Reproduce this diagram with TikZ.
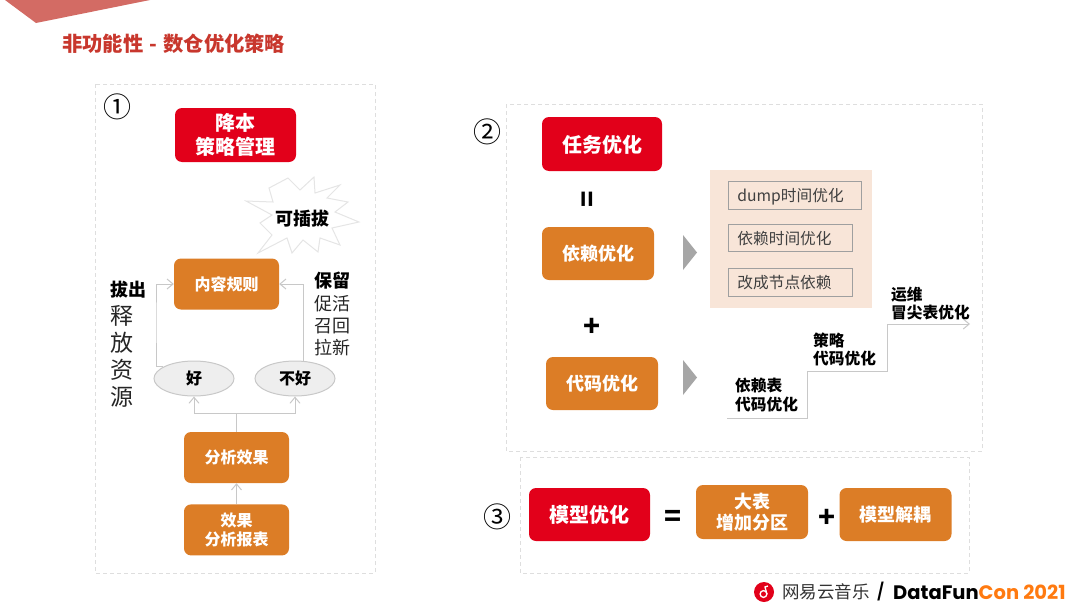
\documentclass[tikz,border=0pt]{standalone}
\usepackage{fontspec}
\usepackage{xcolor}
\usepackage{tikz}
\usetikzlibrary{positioning, arrows.meta, shapes.geometric}
\setmainfont{Noto Sans CJK SC}
\newfontfamily\logofont{Poppins}
\newcommand{\fs}[1]{\fontsize{#1pt}{\dimexpr #1pt*12/10\relax}\selectfont}
\definecolor{boxred}{HTML}{E2001A}
\definecolor{boxorange}{HTML}{DC7D26}
\definecolor{titlered}{HTML}{C8372D}
\definecolor{bannerred}{HTML}{D36B64}
\definecolor{panelpeach}{HTML}{F8E5D8}
\definecolor{dashgray}{HTML}{DEDEDE}
\definecolor{linegray}{HTML}{C8C8C8}
\definecolor{logoorange}{HTML}{FF7A10}

\begin{document}
\begin{tikzpicture}[
  x=1pt, y=-1pt,
  redbox/.style={fill=boxred, rounded corners=7pt, text=white, align=center,
                 inner sep=0pt, text height=18pt, text depth=2pt, font=\fs{20}\bfseries},
  orbox/.style={fill=boxorange, rounded corners=7pt, text=white, align=center,
                inner sep=0pt, minimum width=112pt, minimum height=53pt,
                text height=16pt, text depth=2pt, font=\fs{18}\bfseries},
  smallor/.style={orbox, minimum width=105pt, minimum height=51pt,
                  text height=14.4pt, text depth=1.6pt, font=\fs{16}\bfseries},
  twoline/.style={text height=, text depth=},
  oval/.style={draw=linegray, fill=gray!13, ellipse, inner sep=0pt, line width=1pt,
               minimum width=80pt, minimum height=35pt, font=\fs{16}\bfseries},
  frame/.style={draw=dashgray, line width=1pt, dash pattern=on 4pt off 3pt},
  tagbox/.style={draw=gray!75, line width=0.8pt, inner xsep=9pt, inner ysep=0pt,
                 minimum height=27.5pt, align=left, text=black!75,
                 text height=14pt, text depth=1pt, font=\fs{15.7}},
  arr/.style={-{Straight Barb[length=6pt,width=10pt]}, line width=1pt, linegray},
  note/.style={inner sep=0pt, align=left, font=\fs{15.7}\bfseries},
  circnum/.style={inner sep=0pt, font=\fs{28}},
  symb/.style={inner sep=0pt, font=\fs{28}\bfseries},
  tri/.style={fill=gray!70}
]
  \useasboundingbox (0,0) rectangle (1080,608);

  \fill[bannerred] (5,0) -- (36,23) -- (150,0) -- cycle;
  \node[anchor=west, inner sep=0pt, text=titlered, font=\fs{20.3}\bfseries] (title) at (62,44)
    {非功能性\hspace{1.5pt} - \hspace{1.5pt}数仓优化策略};

  \draw[frame] (95,84) rectangle (375,573);
  \draw[frame] (506,104) rectangle (982,451);
  \draw[frame] (520,457) rectangle (969,573);

  \node[circnum] (numone)   at (117,107) {①};
  \node[circnum] (numtwo)   at (487,132) {②};
  \node[circnum] (numthree) at (497,517) {③};

  \node[redbox, twoline, minimum width=121pt, minimum height=54pt] (cost) at (235.5,135)
    {降本\\策略管理};
  \draw[draw=black!10, fill=white, line width=1pt]
    (246,201) -- (273,202) -- (269,188) -- (288,178) -- (300,190) -- (314,177)
    -- (315,193) -- (340,185) -- (327,198) -- (348,202) -- (335,212) -- (359,222)
    -- (332,228) -- (340,245) -- (320,238) -- (318,252) -- (303,240) -- (292,253)
    -- (287,238) -- (258,253) -- (272,235) -- (260,223) -- (272,215) -- cycle;
  \node[inner sep=0pt, font=\fs{18}\bfseries] (plug) at (302,219) {可插拔};

  \node[smallor] (rule) at (226.5,284) {内容规则};
  \node[oval] (good) at (194,378.5) {好};
  \node[oval, right=20pt of good] (bad) {不好};
  \node[smallor] (effect) at (236.5,457.5) {分析效果};
  \node[smallor, twoline, below=21pt of effect] (report) {效果\\分析报表};
  \coordinate[above=18pt of effect.north] (split);
  \coordinate (goodturn) at (156,320);

  \draw[arr] (good.159) -| (goodturn) |- (rule.west);
  \draw[arr] (bad.65) |- (rule.east);
  \draw[line width=1pt, linegray] (effect.north) -- (split);
  \draw[arr] (split) -| (good.south);
  \draw[arr] (split) -| (bad.south);
  \draw[arr] (report.north) -- (effect.south);

  \node[inner sep=0pt, anchor=west, font=\fs{18}\bfseries] (pull) at (110,290) {拔出};
  \node[inner sep=0pt, anchor=north west, align=left, text=black!85,
        font=\fontsize{23pt}{27.2pt}\selectfont] (release) at (110,305)
    {释\\放\\资\\源};
  \node[inner sep=0pt, anchor=west, font=\fs{18}\bfseries] (keep) at (314,281) {保留};
  \node[inner sep=0pt, anchor=north west, align=left, text=black!85,
        font=\fontsize{18pt}{22pt}\selectfont] (retain) at (314,295)
    {促活\\召回\\拉新};

  \node[redbox, minimum width=120pt, minimum height=54pt] (task) at (602,144) {任务优化};
  \node[symb, rotate=90, font=\fs{27}\bfseries] (equalone) at (590,199.5) {=};
  \node[orbox] (dep) at (598,253.5) {依赖优化};
  \node[symb] (plusone) at (592.5,327) {+};
  \node[orbox] (code) at (602,383.5) {代码优化};
  \fill[tri] (683,235) -- (697,252.5) -- (683,270) -- cycle;
  \fill[tri] (683,360) -- (697,377.5) -- (683,395) -- cycle;

  \node[fill=panelpeach, inner sep=0pt, minimum width=162pt, minimum height=138pt] (panel)
    at (791,239) {};
  \node[tagbox, anchor=north west, text width=115pt] (dump) at (728,181) {dump时间优化};
  \node[tagbox, text width=106pt, below=14.5pt of dump.south west, anchor=north west] (deptime)
    {依赖时间优化};
  \node[tagbox, text width=106pt, below=16pt of deptime.south west, anchor=north west] (nodedep)
    {改成节点依赖};

  \coordinate (stepa) at (727,418);
  \coordinate (stepb) at (807,371);
  \coordinate (stepc) at (887,324);
  \coordinate (stepd) at (970,324);
  \draw[arr] (stepa) -| (stepb) -| (stepc) -- (stepd);
  \node[note, anchor=west] (stepone)   at (735,395) {依赖表\\代码优化};
  \node[note, anchor=west] (steptwo)   at (813,349.5) {策略\\代码优化};
  \node[note, anchor=west] (stepthree) at (891,303.5) {运维\\冒尖表优化};

  \node[redbox, minimum width=121pt, minimum height=53pt] (model) at (589.5,514.5) {模型优化};
  \node[symb] (equaltwo) at (673,518) {=};
  \node[orbox, twoline, minimum height=54pt] (bigtable) at (752,512) {大表\\增加分区};
  \node[symb] (plustwo) at (827.5,518.5) {+};
  \node[orbox] (decouple) at (895.5,514.5) {模型解耦};

  \node[circle, fill=boxred, minimum size=20pt, inner sep=0pt] (logo) at (764,592) {};
  \draw[white, line width=1.3pt] (763.5,594) circle (3.4pt);
  \draw[white, line width=1.3pt] (766.9,594) -- (765,587) -- (768,586);
  \node[inner sep=0pt, text=black!80, font=\fs{17.5}, right=8pt of logo] (brand) {网易云音乐};
  \node[anchor=west, inner sep=0pt, font=\fs{19}\bfseries] (slash) at (877,592) {/};
  \node[anchor=west, inner sep=0pt, font=\logofont\fs{19.5}\bfseries] (datafun) at (893,592)
    {DataFun\textcolor{logoorange}{Con 2021}};
\end{tikzpicture}
\end{document}
